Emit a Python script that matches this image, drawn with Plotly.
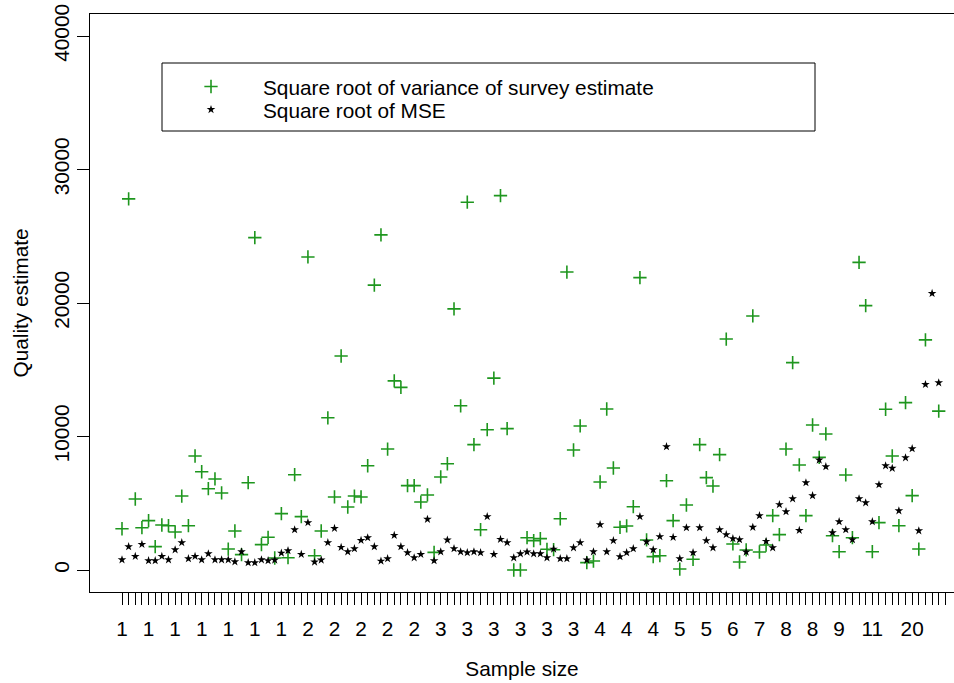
import plotly.graph_objects as go

# ---- data ----
idx = list(range(1, 126))

var_sd = [3090, 27800, 5320, 3170, 3700, 1750, 3370, 3320, 2850, 5540,
          3320, 8540, 7360, 6090, 6820, 5770, 1570, 2920, 1150, 6540,
          24900, 1900, 2450, 900, 4220, 920, 7140, 4000, 23450, 1070,
          2920, 11400, 5470, 16030, 4720, 5540, 5470, 7810, 21340, 25100,
          9060, 14170, 13680, 6320, 6320, 5090, 5620, 1320, 6970, 7960,
          19560, 12300, 27550, 9390, 3020, 10510, 14370, 28040, 10590, 0,
          0, 2420, 2200, 2350, 1550, 1520, 3840, 22320, 8990, 10790,
          550, 670, 6590, 12060, 7640, 3200, 3300, 4740, 21900, 2250,
          1000, 1070, 6690, 3700, 70, 4870, 800, 9390, 6920, 6290,
          8640, 17300, 1950, 600, 1500, 19030, 1350, 1870, 4070, 2650,
          9060, 15530, 7870, 4070, 10860, 8440, 10190, 2570, 1370, 7120,
          2420, 23040, 19800, 1370, 3550, 12040, 8540, 3320, 12540, 5570,
          1570, 17240, None, 11900, None]

mse_sd = [770, 1750, 1020, 1920, 700, 700, 1020, 770, 1520, 2050,
          850, 1020, 770, 1220, 770, 770, 770, 620, 1370, 550,
          550, 770, 700, 750, 1270, 1450, 3020, 1170, 3550, 600,
          750, 2050, 3120, 1700, 1370, 1600, 2220, 2420, 1750, 670,
          850, 2600, 1750, 1300, 920, 1170, 3800, 700, 1370, 2250,
          1600, 1370, 1300, 1370, 1300, 4000, 1170, 2300, 2050, 920,
          1220, 1350, 1220, 1220, 920, 1570, 850, 850, 1670, 2050,
          750, 1370, 3400, 1370, 2200, 1000, 1300, 1600, 4000, 2120,
          1520, 2500, 9240, 2450, 850, 3170, 1300, 3170, 2200, 1670,
          3020, 2650, 2350, 2270, 1350, 3200, 4070, 2150, 1670, 4900,
          4370, 5340, 2970, 6540, 5570, 8240, 7740, 2800, 3620, 3020,
          2270, 5340, 5040, 3620, 6390, 7810, 7620, 4440, 8410, 9090,
          2940, 13900, 20720, 14030, None]

# sample-size labels that are printed under the axis (index, label)
label_idx = [1, 5, 9, 13, 17, 21, 25, 29, 33, 37, 41, 45, 49, 53, 57, 61, 65, 69,
             73, 77, 81, 85, 89, 93, 97, 101, 105, 109, 114, 120]
label_txt = (["1"] * 7 + ["2"] * 5 + ["3"] * 6 + ["4"] * 3 + ["5"] * 2 +
             ["6", "7", "8", "8", "9", "11", "20"])

y_ticks = [0, 10000, 20000, 30000, 40000]
y_tick_labels = ["0", "10000", "20000", "30000", "40000"]

# ---- figure ----
GREEN = "#1e961e"
FONT = "Liberation Sans, Arial, Helvetica, sans-serif"
FS = 20.8

lab_map = dict(zip(label_idx, label_txt))
x_ticktext = [lab_map.get(i, "") for i in idx]

fig = go.Figure()
fig.add_trace(go.Scatter(
    x=idx, y=var_sd, mode="markers",
    name="Square root of variance of survey estimate",
    legend="legend",
    marker=dict(symbol="cross-thin", size=9.5, color=GREEN,
                line=dict(color=GREEN, width=1.6)),
))
fig.add_trace(go.Scatter(
    x=idx, y=mse_sd, mode="markers",
    name="Square root of MSE",
    legend="legend2",
    marker=dict(symbol="star", size=6.5, color="black", line=dict(width=0)),
))

W, H = 954, 683
PL, PT, PW, PH = 90, 14, 864, 578   # plot area in window pixels
PB = PT + PH


def px2x(p):
    return (p - PL) / PW


def px2y(p):
    return (PB - p) / PH


leg_common = dict(
    x=px2x(159), xanchor="left", yanchor="middle",
    bgcolor="rgba(0,0,0,0)", borderwidth=0,
    itemwidth=94, tracegroupgap=0,
    font=dict(family=FONT, size=FS, color="black"),
)

fig.update_layout(
    width=W, height=H,
    margin=dict(l=PL, r=W - PL - PW, t=PT, b=H - PB, autoexpand=False),
    plot_bgcolor="white", paper_bgcolor="white",
    font=dict(family=FONT, size=FS, color="black"),
    showlegend=True,
    legend=dict(y=px2y(87), **leg_common),
    legend2=dict(y=px2y(110), **leg_common),
    shapes=[dict(type="rect", xref="paper", yref="paper",
                 x0=px2x(162), x1=px2x(815),
                 y0=px2y(131), y1=px2y(63),
                 line=dict(color="black", width=1), fillcolor="rgba(0,0,0,0)")],
)

fig.update_xaxes(
    range=[-3.82, 126.3], automargin=False,
    tickmode="array", tickvals=idx, ticktext=x_ticktext,
    ticks="outside", ticklen=12, tickwidth=1, tickcolor="black",
    ticklabelstandoff=6, ticklabeloverflow="allow",
    showline=True, linecolor="black", linewidth=1, mirror=True,
    showgrid=False, zeroline=False,
    tickfont=dict(family=FONT, size=FS, color="black"),
    title=dict(text="Sample size", standoff=22,
               font=dict(family=FONT, size=FS, color="black")),
)
fig.update_yaxes(
    range=[-1648, 41648], automargin=False,
    tickmode="array", tickvals=y_ticks, ticktext=y_tick_labels,
    tickangle=-90, ticklabeloverflow="allow",
    ticks="outside", ticklen=12, tickwidth=1, tickcolor="black",
    showline=True, linecolor="black", linewidth=1, mirror=False,
    showgrid=False, zeroline=False,
    tickfont=dict(family=FONT, size=FS, color="black"),
    title=dict(text="Quality estimate", standoff=15,
               font=dict(family=FONT, size=FS, color="black")),
)

# remove the default page margin so the figure sits at the window's corner
fig.write_html("out.html",
               config={"displayModeBar": False},
               post_script="document.body.style.margin='0';"
                           "document.body.style.overflow='hidden';")
